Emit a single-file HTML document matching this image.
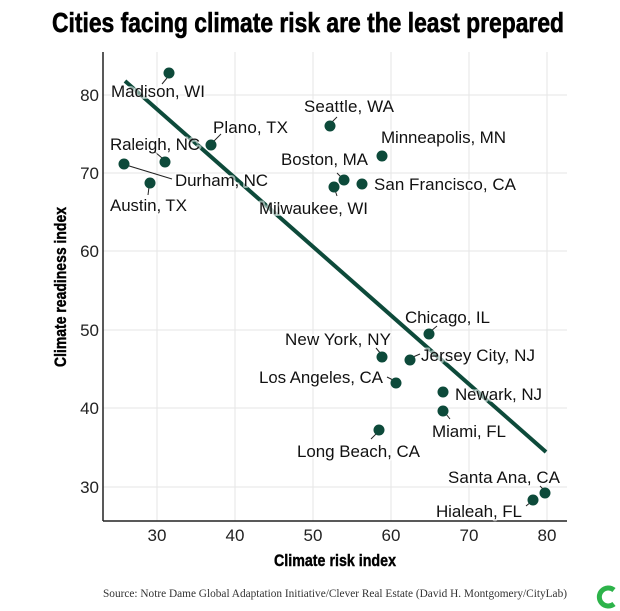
<!DOCTYPE html>
<html><head><meta charset="utf-8"><style>
html,body{margin:0;padding:0;background:#fff;}
svg{display:block;}
.lab{font-family:"Liberation Sans",Arial,sans-serif;font-size:17px;fill:#111;paint-order:stroke;stroke:rgba(255,255,255,0.55);stroke-width:4px;stroke-linejoin:round;}
.tick{font-family:"Liberation Sans Narrow","Liberation Sans",sans-serif;font-size:17px;fill:#222;}
</style></head><body>
<svg width="620" height="611" viewBox="0 0 620 611" xmlns="http://www.w3.org/2000/svg">
<text x="52" y="32" font-family="'Liberation Sans Narrow','Liberation Sans',sans-serif" font-weight="bold" font-size="28" textLength="512" lengthAdjust="spacingAndGlyphs" fill="#000" stroke="#000" stroke-width="0.6">Cities facing climate risk are the least prepared</text>
<g stroke="#e6e6e6" stroke-width="1">
<line x1="157" y1="52" x2="157" y2="521"/><line x1="235" y1="52" x2="235" y2="521"/><line x1="313" y1="52" x2="313" y2="521"/><line x1="391" y1="52" x2="391" y2="521"/><line x1="469" y1="52" x2="469" y2="521"/><line x1="547" y1="52" x2="547" y2="521"/>
<line x1="103" y1="95" x2="567" y2="95"/><line x1="103" y1="173" x2="567" y2="173"/><line x1="103" y1="251" x2="567" y2="251"/><line x1="103" y1="330" x2="567" y2="330"/><line x1="103" y1="408" x2="567" y2="408"/><line x1="103" y1="487" x2="567" y2="487"/>
</g>
<g stroke="#222" stroke-width="1.5"><line x1="103" y1="52" x2="103" y2="521"/><line x1="103" y1="521" x2="567" y2="521"/></g>
<g class="tick" text-anchor="middle">
<text x="157" y="541">30</text><text x="235" y="541">40</text><text x="313" y="541">50</text><text x="391" y="541">60</text><text x="469" y="541">70</text><text x="547" y="541">80</text>
</g>
<g class="tick" text-anchor="end">
<text x="99" y="101">80</text><text x="99" y="179">70</text><text x="99" y="257">60</text><text x="99" y="336">50</text><text x="99" y="414">40</text><text x="99" y="493">30</text>
</g>
<text x="335" y="566" text-anchor="middle" font-family="'Liberation Sans Narrow','Liberation Sans',sans-serif" font-weight="bold" font-size="17" fill="#000" stroke="#000" stroke-width="0.4" textLength="122" lengthAdjust="spacingAndGlyphs">Climate risk index</text>
<text transform="translate(66,287) rotate(-90)" text-anchor="middle" font-family="'Liberation Sans Narrow','Liberation Sans',sans-serif" font-weight="bold" font-size="17" fill="#000" stroke="#000" stroke-width="0.4" textLength="160" lengthAdjust="spacingAndGlyphs">Climate readiness index</text>
<line x1="125" y1="81" x2="546" y2="452" stroke="#0d4a3a" stroke-width="4"/>
<g stroke="#222" stroke-width="1">
<line x1="167" y1="78" x2="162" y2="84"/>
<line x1="213" y1="142" x2="221" y2="134"/>
<line x1="162" y1="158" x2="155" y2="152"/>
<line x1="126" y1="165" x2="172" y2="179"/>
<line x1="149" y1="187" x2="148" y2="195"/>
<line x1="331" y1="123" x2="337" y2="117"/>
<line x1="341" y1="177" x2="337" y2="173"/>
<line x1="335" y1="190" x2="337" y2="196"/>
<line x1="381" y1="354" x2="376" y2="348"/>
<line x1="413" y1="357" x2="420" y2="354"/>
<line x1="393" y1="380" x2="387" y2="377"/>
<line x1="431" y1="331" x2="437" y2="326"/>
<line x1="446" y1="414" x2="450" y2="419"/>
<line x1="377" y1="433" x2="371" y2="439"/>
<line x1="544" y1="490" x2="540" y2="486"/>
<line x1="531" y1="502" x2="526" y2="506"/>
</g>
<g fill="#0d4a3a">
<circle cx="169" cy="73" r="5.5"/><circle cx="211" cy="145" r="5.5"/><circle cx="165" cy="162" r="5.5"/><circle cx="124" cy="164" r="5.5"/><circle cx="150" cy="183" r="5.5"/>
<circle cx="330" cy="126" r="5.5"/><circle cx="382" cy="156" r="5.5"/><circle cx="344" cy="180" r="5.5"/><circle cx="334" cy="187" r="5.5"/><circle cx="362" cy="184" r="5.5"/>
<circle cx="429" cy="334" r="5.5"/><circle cx="382" cy="357" r="5.5"/><circle cx="410" cy="360" r="5.5"/><circle cx="396" cy="383" r="5.5"/><circle cx="443" cy="392" r="5.5"/><circle cx="443" cy="411" r="5.5"/><circle cx="379" cy="430" r="5.5"/><circle cx="545" cy="493" r="5.5"/><circle cx="533" cy="500" r="5.5"/>
</g>
<g class="lab">
<text x="111" y="97" textLength="94">Madison, WI</text>
<text x="213" y="133" textLength="75">Plano, TX</text>
<text x="110" y="150" textLength="90">Raleigh, NC</text>
<text x="175" y="186" textLength="93">Durham, NC</text>
<text x="110" y="211" textLength="77">Austin, TX</text>
<text x="304" y="112" textLength="90">Seattle, WA</text>
<text x="381" y="143" textLength="125">Minneapolis, MN</text>
<text x="281" y="165" textLength="87">Boston, MA</text>
<text x="259" y="214" textLength="109">Milwaukee, WI</text>
<text x="374" y="190" textLength="142">San Francisco, CA</text>
<text x="405" y="323" textLength="85">Chicago, IL</text>
<text x="285" y="345" textLength="106">New York, NY</text>
<text x="421" y="361" textLength="114">Jersey City, NJ</text>
<text x="259" y="383" textLength="124">Los Angeles, CA</text>
<text x="455" y="400" textLength="87">Newark, NJ</text>
<text x="432" y="437" textLength="74">Miami, FL</text>
<text x="297" y="457" textLength="123">Long Beach, CA</text>
<text x="448" y="483" textLength="112">Santa Ana, CA</text>
<text x="436" y="517" textLength="86">Hialeah, FL</text>
</g>
<text x="103" y="597" font-family="'Liberation Serif',serif" font-size="12" fill="#333" textLength="464" lengthAdjust="spacingAndGlyphs">Source: Notre Dame Global Adaptation Initiative/Clever Real Estate (David H. Montgomery/CityLab)</text>
<path d="M614 590 A9 9 0 1 0 614 604" fill="none" stroke="#2db34a" stroke-width="5"/>
</svg>
</body></html>
